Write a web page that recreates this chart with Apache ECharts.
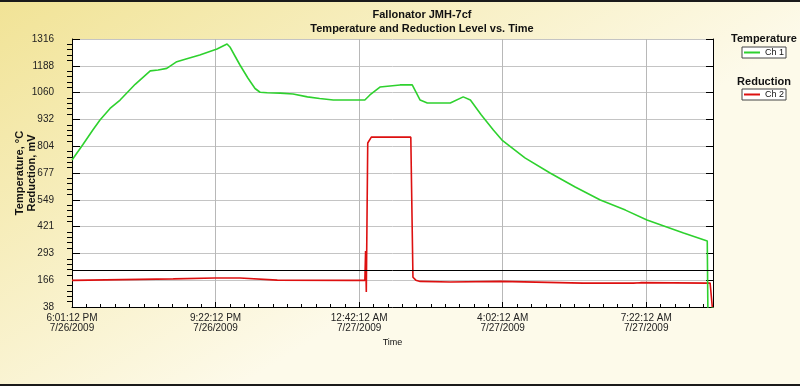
<!DOCTYPE html>
<html>
<head>
<meta charset="utf-8">
<title>Fallonator JMH-7cf</title>
<script src="https://cdn.jsdelivr.net/npm/echarts@6/dist/echarts.min.js"></script>
<style>
  html, body { margin: 0; padding: 0; }
  #chart { width: 800px; height: 386px; }
</style>
</head>
<body>
<div id="chart"></div>
<script>
// minutes since 6:01:12 PM 7/26/2009
var ch1Time = [0, 15, 29, 39, 53, 67, 88, 109, 120, 132, 146, 160, 178, 190, 202, 216, 220, 227, 234, 245, 255, 262, 272, 290, 308, 328, 345, 364, 408, 415, 429, 457, 474, 485, 495, 527, 545, 555, 570, 587, 599, 631, 666, 701, 736, 771, 801, 852, 885, 886, 891, 892];
var ch1Temp = [739, 812, 882, 930, 985, 1025, 1100, 1164, 1168, 1176, 1208, 1222, 1240, 1254, 1268, 1292, 1278, 1235, 1192, 1130, 1080, 1062, 1060, 1058, 1054, 1040, 1032, 1025, 1025, 1049, 1087, 1097, 1097, 1025, 1011, 1011, 1040, 1025, 955, 882, 834, 749, 677, 610, 548, 500, 453, 391, 353, -25, -25, 38];

var ch2Time = [0, 141, 199, 234, 286, 392, 408, 409, 410, 412, 417, 472, 475, 479, 485, 527, 597, 712, 782, 792, 885, 889, 892];
var ch2Red = [165, 172, 176, 176, 166, 165, 165, 305, 110, 820, 848, 848, 180, 166, 160, 157, 160, 152, 152, 154, 152, 152, 38];

var xTickLabels = ['6:01:12 PM\n7/26/2009', '9:22:12 PM\n7/26/2009', '12:42:12 AM\n7/27/2009', '4:02:12 AM\n7/27/2009', '7:22:12 AM\n7/27/2009'];
var yTickLabels = ['38', '166', '293', '421', '549', '677', '804', '932', '1060', '1188', '1316'];
var refLevel = 214;

function pairs(xs, ys) {
  return xs.map(function (x, i) { return [x, ys[i]]; });
}

var font = 'Arial, "Liberation Sans", sans-serif';
var myChart = echarts.init(document.getElementById('chart'));

var option = {
  backgroundColor: {
    type: 'linear', x: 0, y: 0, x2: 0.3, y2: 1,
    colorStops: [{ offset: 0, color: '#f1e396' }, { offset: 1, color: '#fdfaea' }]
  },
  textStyle: { fontFamily: font },
  title: [
    {
      text: 'Fallonator JMH-7cf\nTemperature and Reduction Level vs. Time',
      left: 417, top: 3, textAlign: 'center',
      textStyle: { fontSize: 11, fontWeight: 'bold', color: '#111', lineHeight: 14, fontFamily: font }
    },
    {
      text: 'Temperature', left: 759, top: 28, textAlign: 'center',
      textStyle: { fontSize: 11, fontWeight: 'bold', color: '#111', fontFamily: font }
    },
    {
      text: 'Reduction', left: 759, top: 71, textAlign: 'center',
      textStyle: { fontSize: 11, fontWeight: 'bold', color: '#111', fontFamily: font }
    }
  ],
  legend: [
    {
      data: ['Ch 1'], left: 742, top: 47, orient: 'vertical',
      backgroundColor: '#fff', borderColor: '#444', borderWidth: 1, padding: [1, 2],
      icon: 'rect', itemWidth: 16, itemHeight: 2, selectedMode: false,
      textStyle: { fontSize: 9, color: '#111', fontFamily: font }
    },
    {
      data: ['Ch 2'], left: 742, top: 89, orient: 'vertical',
      backgroundColor: '#fff', borderColor: '#444', borderWidth: 1, padding: [1, 2],
      icon: 'rect', itemWidth: 16, itemHeight: 2, selectedMode: false,
      textStyle: { fontSize: 9, color: '#111', fontFamily: font }
    }
  ],
  grid: {
    left: 72, right: 87, top: 39, bottom: 79,
    outerBoundsMode: 'none', containLabel: false,
    show: true, backgroundColor: '#fff', borderWidth: 0
  },
  xAxis: {
    type: 'value', min: 0, max: 893, interval: 200,
    name: 'Time', nameLocation: 'middle', nameGap: 21,
    nameTextStyle: { fontSize: 9, color: '#111' },
    axisLine: { lineStyle: { color: '#000', width: 1 } },
    axisTick: { inside: true, length: 5, lineStyle: { color: '#000' } },
    minorTick: { show: true, splitNumber: 10, length: 3, lineStyle: { color: '#000' } },
    splitLine: { show: true, lineStyle: { color: '#b8b8b8', width: 1 } },
    axisLabel: {
      fontSize: 10, color: '#222', lineHeight: 10, margin: 6,
      formatter: function (v, i) { return xTickLabels[i] || ''; }
    }
  },
  yAxis: [
    {
      type: 'value', min: 38, max: 1316, interval: 127.8,
      name: 'Temperature, °C\nReduction, mV', nameLocation: 'middle', nameRotate: 90,
      nameGap: 34, nameMoveOverlap: false,
      nameTextStyle: { fontSize: 11, fontWeight: 'bold', color: '#111', lineHeight: 12 },
      axisLine: { show: true, lineStyle: { color: '#000', width: 1 } },
      axisTick: { inside: true, length: 8, lineStyle: { color: '#000' } },
      splitLine: { show: true, lineStyle: { color: '#c4c4c4', width: 1 } },
      axisLabel: {
        fontSize: 10, color: '#222', margin: 18,
        formatter: function (v, i) { return yTickLabels[i] || ''; }
      }
    },
    {
      type: 'value', min: 38, max: 1316, interval: 127.8, position: 'left',
      axisLine: { show: false }, axisLabel: { show: false }, splitLine: { show: false },
      axisTick: { show: false },
      minorTick: { show: true, splitNumber: 5, length: 5, lineStyle: { color: '#000' } }
    },
    {
      type: 'value', min: 38, max: 1316, interval: 127.8, position: 'right',
      axisLine: { show: true, lineStyle: { color: '#000', width: 1 } },
      axisLabel: { show: false }, splitLine: { show: false },
      axisTick: { inside: true, length: 7, lineStyle: { color: '#000' } }
    }
  ],
  series: [
    {
      name: 'Ch 2', type: 'line', data: pairs(ch2Time, ch2Red),
      showSymbol: false, clip: false, color: '#dd1010',
      lineStyle: { width: 1.6, color: '#dd1010' },
      markLine: {
        silent: true, symbol: 'none', label: { show: false },
        lineStyle: { color: '#000', type: 'solid', width: 1 },
        data: [{ yAxis: refLevel }]
      }
    },
    {
      name: 'Ch 1', type: 'line', data: pairs(ch1Time, ch1Temp),
      showSymbol: false, clip: false, color: '#2ed12e',
      lineStyle: { width: 1.6, color: '#2ed12e' }
    }
  ],
  graphic: [
    { type: 'rect', shape: { x: 0, y: 0, width: 800, height: 2 }, style: { fill: '#1a1a1a' } },
    { type: 'rect', shape: { x: 0, y: 384, width: 800, height: 2 }, style: { fill: '#1a1a1a' } }
  ]
};

myChart.setOption(option);
window.onresize = function () {
  myChart.resize();
};
</script>
</body>
</html>
